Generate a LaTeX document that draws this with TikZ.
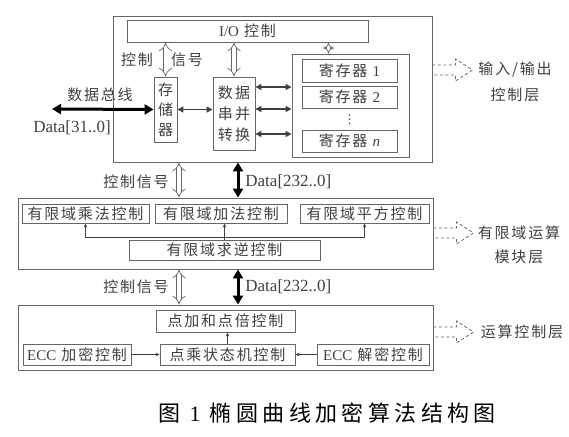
\documentclass[tikz,border=0pt]{standalone}
\usepackage{fontspec}
\setmainfont{Liberation Serif}
\newfontfamily\cjk[LetterSpace=12]{Noto Sans CJK SC}
\newfontfamily\cjkcap[LetterSpace=20]{Noto Sans CJK SC}
\newfontfamily\symfont{DejaVu Sans}
\usetikzlibrary{arrows.meta,positioning}
\definecolor{ink}{gray}{0.25}
\definecolor{edge}{gray}{0.4}

\begin{document}
\begin{tikzpicture}[x=1pt,y=-1pt,node distance=26.5pt,>=Stealth,thick]
\tikzstyle{box}=[rectangle,draw=edge,line width=0.9pt,inner sep=0pt,text=ink,font=\cjk\fontsize{15}{20}\selectfont]
\tikzstyle{lbl}=[text=ink,inner sep=0pt,font=\cjk\fontsize{15}{20}\selectfont]
\tikzstyle{num}=[text=ink,inner sep=0pt,font=\fontsize{17}{17}\selectfont]
\tikzstyle{bus}=[draw=black,line width=3pt,{Triangle[length=9pt,width=10pt]}-{Triangle[length=9pt,width=10pt]}]
\tikzstyle{link}=[draw=ink,line width=1.5pt,{Triangle[length=6pt,width=6pt]}-{Triangle[length=6pt,width=6pt]}]
\tikzstyle{ctrl}=[draw=edge,line width=0.7pt,double distance=4pt,{Implies}-{Implies}]
\tikzstyle{tip}=[draw=ink,line width=0.8pt,-{Stealth[length=4pt,width=3.5pt]}]
\tikzstyle{layerdash}=[draw=edge,line width=0.8pt,dash pattern=on 3pt off 2.5pt]

\useasboundingbox (0,0) rectangle (569,436);

% 输入/输出控制层
\node[box,minimum width=319pt,minimum height=146pt] (iolayer) at (272.5,89) {};
\node[box,minimum width=241pt,minimum height=22pt] (io) at (247.5,31) {{\rmfamily I/O} 控制};
\node[box,minimum width=23pt,minimum height=65pt,align=center] (mem) at (165.5,109.5) {存\\储\\器};
\node[box,minimum width=42pt,minimum height=73pt,align=center,font=\cjk\fontsize{15}{21}\selectfont] (ser) at (234,113.5) {数\,据\\串\,并\\转\,换};
\node[box,minimum width=117pt,minimum height=103pt] (regs) at (350.5,105.5) {};
\node[box,minimum width=95pt,minimum height=23pt] (reg1) at (349.5,70.5) {寄存器 {\rmfamily 1}};
\node[box,minimum width=95pt,minimum height=22pt,below of=reg1] (reg2) {寄存器 {\rmfamily 2}};
\node[box,minimum width=95pt,minimum height=22pt] (regn) at (349.5,141) {寄存器 {\rmfamily\itshape n}};
\node[text=ink,inner sep=0pt,font=\symfont\fontsize{12}{12}\selectfont] (vdots) at (349.5,120) {⋮};

\node[lbl] (ctl1) at (137,60) {控制};
\node[lbl] (sig1) at (187,60) {信号};
\node[lbl] (buslbl) at (100,95) {数据总线};
\node[num] (buswidth) at (72,128) {Data[31..0]};
\coordinate (busend) at (52,109);

\draw[bus] (busend) -- (mem.west);
\draw[link] (mem.east) -- (mem.east -| ser.west);
\foreach \dy in {26.5pt,4.5pt,-20.5pt}
  \draw[link] ([yshift=\dy]ser.east) -- ([yshift=\dy]ser.east -| regs.west);
\draw[ctrl] (io.south -| mem.north) -- (mem.north);
\draw[ctrl] (io.south -| ser.north) -- (ser.north);
\draw[ctrl,double distance=3pt,{Implies[length=3pt]}-{Implies[length=3pt]}] ([xshift=-22pt]regs.north |- io.south) -- ([xshift=-22pt]regs.north);

\node[lbl] (io1) at (515,70) {输入/输出};
\node[lbl,below of=io1,node distance=25pt] (io2) {控制层};
\coordinate (ioout) at (iolayer.east |- io1.west);

% 层间信号
\coordinate (ctlx) at (179,0);
\coordinate (datx) at (238,0);

% 有限域运算模块层
\node[box,minimum width=415pt,minimum height=71pt] (fflayer) at (225.5,233.5) {};
\node[box,minimum width=127pt,minimum height=19pt] (mul) at (85.5,213.5) {有限域乘法控制};
\node[box,minimum width=132pt,minimum height=19pt] (add) at (221,213.5) {有限域加法控制};
\node[box,minimum width=129pt,minimum height=19pt] (sqr) at (364.5,213.5) {有限域平方控制};
\node[box,minimum width=191pt,minimum height=20pt] (inv) at (224.5,250) {有限域求逆控制};
\coordinate (fork) at (224.5,237);
\draw[tip] (inv.north) -- (inv.north |- add.south);
\draw[tip] (fork) -| (mul.south);
\draw[tip] (fork) -| (sqr.south);

\draw[ctrl] (iolayer.south -| ctlx) -- (fflayer.north -| ctlx);
\draw[bus] (iolayer.south -| datx) -- (fflayer.north -| datx);
\node[lbl] (sig2) at (136,182) {控制信号};
\node[num,anchor=west] (data2) at (245,182) {Data[232..0]};

\node[lbl] (ff1) at (519,233) {有限域运算};
\node[lbl,below of=ff1,node distance=24pt] (ff2) {模块层};
\coordinate (ffout) at (fflayer.east |- ff1.west);

% 运算控制层
\node[box,minimum width=415pt,minimum height=65pt] (oplayer) at (225.5,337.5) {};
\node[box,minimum width=139pt,minimum height=22pt] (pad) at (225.5,321) {点加和点倍控制};
\node[box,minimum width=108pt,minimum height=21pt] (enc) at (77,354.5) {{\rmfamily ECC} 加密控制};
\node[box,minimum width=135pt,minimum height=21pt] (pm) at (227.5,354.5) {点乘状态机控制};
\node[box,minimum width=112pt,minimum height=21pt] (dec) at (373,354.5) {{\rmfamily ECC} 解密控制};
\draw[tip] (enc) -- (pm);
\draw[tip] (dec) -- (pm);
\draw[tip] (pm.north) -- (pm.north |- pad.south);

\draw[ctrl] (fflayer.south -| ctlx) -- (oplayer.north -| ctlx);
\draw[bus] (fflayer.south -| datx) -- (oplayer.north -| datx);
\node[lbl] (sig3) at (136,287) {控制信号};
\node[num,anchor=west] (data3) at (245,287) {Data[232..0]};

\node[lbl] (op1) at (522,332) {运算控制层};
\coordinate (opout) at (oplayer.east |- op1.west);

% 虚线空心箭头
\foreach \p in {ioout,ffout,opout}
  \draw[layerdash] (\p) ++(0,-5) -- ++(23,0) -- ++(0,-6) -- ++(17,11) -- ++(-17,11) -- ++(0,-6) -- ++(-23,0);

\node[text=black,inner sep=0pt,font=\cjkcap\fontsize{22}{22}\selectfont] (caption) at (327,413) {图 {\rmfamily 1} 椭圆曲线加密算法结构图};
\end{tikzpicture}
\end{document}
